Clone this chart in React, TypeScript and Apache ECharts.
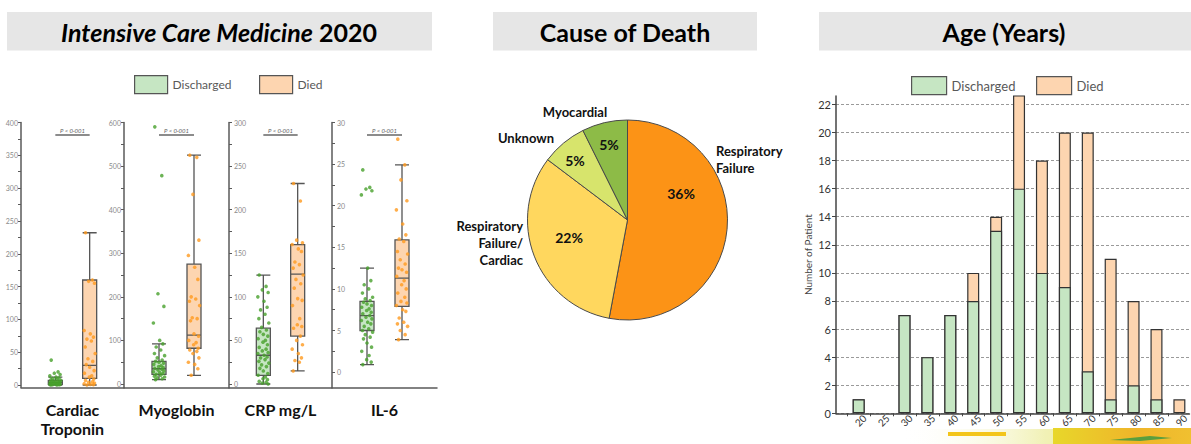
import React, { useEffect, useRef } from 'react';
import * as echarts from 'echarts';

// ---------------- Data ----------------
const PANEL_NAMES = ['Cardiac\nTroponin', 'Myoglobin', 'CRP mg/L', 'IL-6'];
const GROUPS = ['Discharged', 'Died'];

// box statistics: [min, Q1, median, Q3, max]
const TROP_BOX_DIS = [0, 1, 4, 7, 12];
const TROP_BOX_DIED = [0, 10, 30, 160, 232];
const MYO_BOX_DIS = [10, 22, 35, 52, 92];
const MYO_BOX_DIED = [20, 82, 112, 275, 525];
const CRP_BOX_DIS = [0, 10, 33, 64, 125];
const CRP_BOX_DIED = [15, 55, 126, 160, 230];
const IL6_BOX_DIS = [0.9, 5.0, 6.8, 8.5, 12.5];
const IL6_BOX_DIED = [3.9, 7.9, 11.3, 15.9, 24.9];

// individual patient values
const TROP_PTS_DIS = [38, 20, 18, 16, 14, 12, 11, 10, 9, 8, 7, 6, 6, 5, 5, 4, 4, 3, 3, 3, 2, 2, 2, 1, 1, 1, 0.5, 0.5, 0, 0];
const TROP_PTS_DIED = [232, 160, 158, 155, 83, 78, 73, 70, 67, 58, 48, 40, 36, 31, 27, 22, 18, 14, 12, 9, 7, 5, 4, 3, 2, 1, 0.5, 0];
const MYO_PTS_DIS = [590, 478, 207, 178, 140, 100, 92, 85, 78, 70, 65, 60, 55, 52, 50, 48, 45, 42, 40, 38, 36, 34, 32, 30, 28, 26, 24, 22, 20, 18, 16, 14, 12, 10];
const MYO_PTS_DIED = [525, 520, 435, 330, 295, 268, 240, 200, 195, 190, 180, 152, 150, 145, 115, 110, 100, 95, 90, 82, 78, 75, 70, 60, 50, 45, 35, 20];
const CRP_PTS_DIS = [125, 112, 108, 105, 100, 95, 88, 85, 80, 75, 70, 65, 62, 60, 57, 55, 52, 50, 48, 45, 42, 40, 38, 36, 35, 33, 31, 30, 28, 26, 24, 22, 20, 18, 15, 12, 10, 8, 6, 5, 3, 2, 1, 0];
const CRP_PTS_DIED = [230, 210, 165, 162, 160, 155, 152, 140, 137, 133, 125, 120, 115, 110, 98, 96, 90, 75, 68, 66, 64, 55, 50, 45, 40, 35, 30, 27, 25, 15];
const IL6_PTS_DIS = [24.3, 22.2, 22.0, 21.8, 21.3, 12.5, 11.0, 10.5, 10.0, 9.5, 9.0, 8.8, 8.6, 8.4, 8.2, 8.0, 7.8, 7.6, 7.4, 7.2, 7.0, 6.8, 6.6, 6.4, 6.2, 6.0, 5.8, 5.5, 5.2, 5.0, 4.8, 4.5, 4.2, 4.0, 3.5, 3.0, 2.5, 2.0, 1.5, 1.2, 0.9];
const IL6_PTS_DIED = [28.0, 24.9, 23.1, 20.6, 19.5, 17.8, 16.5, 16.0, 15.7, 14.5, 14.2, 13.5, 13.0, 12.5, 12.3, 12.0, 11.5, 11.0, 10.5, 10.0, 9.5, 9.0, 8.5, 8.3, 8.0, 7.5, 7.3, 6.5, 6.0, 5.8, 5.5, 5.0, 4.5, 3.9];

// tick labels of the four y axes
const Y_LABELS_TROP = [0, 50, 100, 150, 200, 250, 300, 350, 400];
const Y_LABELS_MYO = [0, 100, 200, 300, 400, 500, 600];
const Y_LABELS_CRP = [0, 50, 100, 150, 200, 250, 300];
const Y_LABELS_IL6 = [0, 5, 10, 15, 20, 25, 30];
const Y_MIN = [-3.8, -8, -4, -1.85];
const Y_MAX = [400, 600, 300, 30];
const P_LABEL = 'P < 0·001';

// fixed horizontal spread of the dots (category units)
const JITTER = [-0.12, 0.08, -0.03, 0.14, -0.16, 0.02, 0.11, -0.08, 0.05, -0.13, 0.16, -0.05, 0.09, -0.1, 0.0, 0.13, -0.15, 0.06, -0.01, 0.12];

// Age distribution
const AGE_GROUPS = [20, 25, 30, 35, 40, 45, 50, 55, 60, 65, 70, 75, 80, 85, 90];
const AGE_DISCHARGED = [1, 0, 7, 4, 7, 8, 13, 16, 10, 9, 3, 1, 2, 1, 0];
const AGE_DIED = [0, 0, 0, 0, 0, 2, 1, 7, 8, 11, 17, 10, 6, 5, 1];
const AGE_Y_TICKS = [0, 2, 4, 6, 8, 10, 12, 14, 16, 18, 20, 22];

// Cause of death
const CAUSES = ['Respiratory\nFailure', 'Respiratory\nFailure/\nCardiac', 'Unknown', 'Myocardial'];
const CAUSE_PCT = [36, 22, 5, 5];

// ---------------- Styles / layout ----------------
const GREEN_FILL = '#c6e6c3';
const ORANGE_FILL = '#fdd5b0';
const GREEN_PT = '#47a02c';
const ORANGE_PT = '#ff9a1e';
const AXIS_C = '#5a5a5a';
const PIE_COLORS = ['#fc9316', '#ffd75e', '#d7e46c', '#8dbb47'];
const FONT = 'Lato, "Open Sans", sans-serif';

const LEFT_GRIDS = [
  { left: 21, width: 103, inside: false },
  { left: 124, width: 105, inside: false },
  { left: 229, width: 103, inside: true },
  { left: 332, width: 105, inside: true },
];
const GRID_TOP = 122.5;
const GRID_BOTTOM_Y = 387.5;
const PCT_POS = [[681, 193], [569, 237], [575, 160], [609, 144]];
const NAME_POS: [number, number, string][] = [[716, 159, 'left'], [523, 243, 'right'], [526, 138, 'center'], [575, 112, 'center']];
const AGE_LABEL_SHIFT = 1.3;

function legendItem(name: string, color: string, left: number, top: number, w: number, fs: number) {
  return {
    data: [{ name, itemStyle: { color, borderColor: '#555', borderWidth: 1.2 } }],
    left, top, padding: 0, icon: 'rect', itemWidth: w, itemHeight: 18, selectedMode: false,
    textStyle: { fontSize: fs, color: '#595959', fontFamily: FONT },
  };
}

function buildOption() {
  const BOX = [[TROP_BOX_DIS, TROP_BOX_DIED], [MYO_BOX_DIS, MYO_BOX_DIED], [CRP_BOX_DIS, CRP_BOX_DIED], [IL6_BOX_DIS, IL6_BOX_DIED]];
  const PTS = [[TROP_PTS_DIS, TROP_PTS_DIED], [MYO_PTS_DIS, MYO_PTS_DIED], [CRP_PTS_DIS, CRP_PTS_DIED], [IL6_PTS_DIS, IL6_PTS_DIED]];
  const Y_LABELS = [Y_LABELS_TROP, Y_LABELS_MYO, Y_LABELS_CRP, Y_LABELS_IL6];

  const grids: any[] = [];
  const xAxes: any[] = [];
  const yAxes: any[] = [];
  const series: any[] = [];
  const graphics: any[] = [];

  // visible panels (grids 0-3) with dots
  LEFT_GRIDS.forEach((g, i) => {
    grids.push({ left: g.left, top: GRID_TOP, width: g.width, height: GRID_BOTTOM_Y - GRID_TOP });
    xAxes.push({
      gridIndex: i, type: 'value', min: 0, max: 3,
      axisLine: { show: true, onZero: false, lineStyle: { color: AXIS_C, width: 1.5 } },
      axisTick: { show: false }, axisLabel: { show: false }, splitLine: { show: false },
      name: PANEL_NAMES[i], nameLocation: 'middle', nameGap: 12,
      nameTextStyle: { fontSize: 16, fontWeight: 'bold', color: '#111', lineHeight: 19, fontFamily: FONT },
    });
    const labels = Y_LABELS[i];
    const step = labels[1] - labels[0];
    const ticks = labels.flatMap((v) => (v + step / 2 <= Y_MAX[i] ? [v, v + step / 2] : [v]));
    yAxes.push({
      gridIndex: i, type: 'value', min: Y_MIN[i], max: Y_MAX[i],
      axisLine: { show: true, onZero: false, lineStyle: { color: AXIS_C, width: 1.5 } },
      axisTick: { show: true, inside: g.inside, length: 3, customValues: ticks, lineStyle: { color: AXIS_C } },
      axisLabel: { show: true, inside: g.inside, customValues: labels, fontSize: 7, color: '#8a8a8a', margin: g.inside ? 5 : 3, fontFamily: FONT },
      splitLine: { show: false },
    });
    GROUPS.forEach((name, k) => {
      series.push({
        type: 'scatter', name: name + ' patients', xAxisIndex: i, yAxisIndex: i, symbolSize: 3.6, z: 3,
        itemStyle: { color: k === 0 ? GREEN_PT : ORANGE_PT },
        emphasis: { disabled: true },
        data: PTS[i][k].map((v, j) => [k + 1 + JITTER[j % JITTER.length], v]),
      });
    });
    // P value annotation
    const x1 = g.left + g.width / 3;
    const x2 = g.left + (2 * g.width) / 3;
    graphics.push({
      type: 'text', x: (x1 + x2) / 2, y: 130,
      style: { text: P_LABEL, fontSize: 6, fontStyle: 'italic', fill: '#666', align: 'center', verticalAlign: 'middle', textAlign: 'center', textVerticalAlign: 'middle', fontFamily: FONT },
    });
    graphics.push({ type: 'line', shape: { x1, y1: 135, x2, y2: 135 }, style: { stroke: '#666', lineWidth: 1.5 } });
  });

  // Age chart (grid 4)
  grids.push({ left: 836, top: 96, width: 355, height: 317.3 });
  xAxes.push({
    gridIndex: 4, type: 'value', min: 15.05, max: 92.2,
    axisLine: { show: true, onZero: false, lineStyle: { color: '#444', width: 1.5 } },
    axisTick: { show: true, length: 3, customValues: AGE_GROUPS.map((a) => a - 2.5), lineStyle: { color: '#444' } },
    axisLabel: {
      show: true, rotate: 45, fontSize: 10, color: '#333', margin: 3, fontFamily: FONT,
      customValues: AGE_GROUPS.map((a) => a + AGE_LABEL_SHIFT),
      formatter: (v: number) => String(Math.round(v - AGE_LABEL_SHIFT)),
    },
    splitLine: { show: false },
  });
  yAxes.push({
    gridIndex: 4, type: 'value', min: 0, max: 22.6,
    axisLine: { show: true, onZero: false, lineStyle: { color: '#444', width: 1.5 } },
    axisTick: { show: true, length: 4, customValues: AGE_Y_TICKS, lineStyle: { color: '#444' } },
    axisLabel: { show: true, customValues: AGE_Y_TICKS, fontSize: 11, color: '#333', margin: 5, fontFamily: FONT },
    splitLine: { show: true, lineStyle: { type: [3, 2], color: '#9a9a9a', width: 1 } },
    name: 'Number of Patient', nameLocation: 'middle', nameGap: 23,
    nameTextStyle: { fontSize: 10, color: '#444', fontFamily: FONT },
  });
  series.push({
    type: 'bar', name: 'Died', xAxisIndex: 4, yAxisIndex: 4, barWidth: 12, barGap: '-100%',
    itemStyle: { color: ORANGE_FILL, borderColor: '#333', borderWidth: 1.2 },
    emphasis: { disabled: true },
    data: AGE_GROUPS.map((a, i) => [a, AGE_DISCHARGED[i] + AGE_DIED[i] || '-']),
  });
  series.push({
    type: 'bar', name: 'Discharged', xAxisIndex: 4, yAxisIndex: 4, barWidth: 12, barGap: '-100%',
    itemStyle: { color: GREEN_FILL, borderColor: '#333', borderWidth: 1.2 },
    emphasis: { disabled: true },
    data: AGE_GROUPS.map((a, i) => [a, AGE_DISCHARGED[i] || '-']),
  });

  // hidden category grids (5-8) carrying the box plots, centred at 1/3 and 2/3 of each panel
  LEFT_GRIDS.forEach((g, i) => {
    const gi = 5 + i;
    grids.push({ left: g.left + g.width / 6, top: GRID_TOP, width: (2 * g.width) / 3, height: GRID_BOTTOM_Y - GRID_TOP });
    xAxes.push({ gridIndex: gi, type: 'category', data: GROUPS, show: false, boundaryGap: true });
    yAxes.push({ gridIndex: gi, type: 'value', min: Y_MIN[i], max: Y_MAX[i], show: false, splitLine: { show: false } });
    series.push({
      type: 'boxplot', name: 'box ' + i, xAxisIndex: gi, yAxisIndex: gi, boxWidth: [14, 14], z: 2,
      itemStyle: { borderColor: '#555', borderWidth: 1.3 },
      emphasis: { disabled: true },
      data: GROUPS.map((_, k) => ({ value: BOX[i][k], itemStyle: { color: k === 0 ? GREEN_FILL : ORANGE_FILL, borderColor: '#555', borderWidth: 1.3 } })),
    });
  });

  // Pie (cause of death)
  const pieData = CAUSES.map((n, i) => ({ name: n, value: CAUSE_PCT[i], itemStyle: { color: PIE_COLORS[i] } }));
  series.push({
    type: 'pie', center: [627.5, 220], radius: 100, startAngle: 90, clockwise: true,
    itemStyle: { borderColor: '#4a4a4a', borderWidth: 1 },
    emphasis: { disabled: true },
    label: { show: true, position: 'inside', formatter: '{c}%', fontSize: 14, fontWeight: 'bold', color: '#111', fontFamily: FONT },
    labelLine: { show: false },
    labelLayout: (p: any) => ({ x: PCT_POS[p.dataIndex][0], y: PCT_POS[p.dataIndex][1], align: 'center', verticalAlign: 'middle' }),
    data: pieData,
  });
  series.push({
    type: 'pie', center: [627.5, 220], radius: 100, startAngle: 90, clockwise: true, silent: true,
    itemStyle: { color: 'rgba(0,0,0,0)', borderWidth: 0 },
    emphasis: { disabled: true },
    label: { show: true, position: 'outside', formatter: '{b}', fontSize: 13, fontWeight: 'bold', color: '#111', lineHeight: 17, fontFamily: FONT },
    labelLine: { show: false },
    labelLayout: (p: any) => ({ x: NAME_POS[p.dataIndex][0], y: NAME_POS[p.dataIndex][1], align: NAME_POS[p.dataIndex][2], verticalAlign: 'middle' }),
    data: CAUSES.map((n, i) => ({ name: n, value: CAUSE_PCT[i] })),
  });

  // Title boxes
  const TS = 25;
  const titleStyle = { fontSize: TS, fontWeight: 'bold', fill: '#000', fontFamily: FONT, align: 'center', verticalAlign: 'middle', textAlign: 'center', textVerticalAlign: 'middle' };
  graphics.push({ type: 'rect', shape: { x: 7, y: 12, width: 425, height: 38.5 }, style: { fill: '#e6e6e6' } });
  graphics.push({ type: 'rect', shape: { x: 493, y: 12, width: 264, height: 38.5 }, style: { fill: '#e6e6e6' } });
  graphics.push({ type: 'rect', shape: { x: 819, y: 12, width: 372, height: 38.5 }, style: { fill: '#e6e6e6' } });
  graphics.push({
    type: 'text', x: 219, y: 31.5,
    style: {
      ...titleStyle,
      text: '{i|Intensive Care Medicine} {b|2020}',
      rich: {
        i: { fontSize: TS, fontWeight: 'bold', fontStyle: 'italic', fill: '#000', fontFamily: FONT },
        b: { fontSize: TS, fontWeight: 'bold', fill: '#000', fontFamily: FONT },
      },
    },
  });
  graphics.push({ type: 'text', x: 625, y: 31.5, style: { ...titleStyle, text: 'Cause of Death' } });
  graphics.push({ type: 'text', x: 1004, y: 31.5, style: { ...titleStyle, text: 'Age (Years)' } });

  // decorative strip at bottom right
  graphics.push({
    type: 'rect', shape: { x: 900, y: 429, width: 291, height: 15 },
    style: { fill: new echarts.graphic.LinearGradient(0, 0, 1, 0, [{ offset: 0, color: 'rgba(255,255,255,0)' }, { offset: 0.5, color: 'rgba(235,235,150,0.7)' }, { offset: 1, color: 'rgba(240,220,80,0.9)' }]) },
  });
  graphics.push({ type: 'rect', shape: { x: 948, y: 432, width: 58, height: 4 }, style: { fill: '#f3c51a' } });
  graphics.push({
    type: 'rect', shape: { x: 1053, y: 428, width: 138, height: 16 },
    style: { fill: new echarts.graphic.LinearGradient(0, 0, 1, 0, [{ offset: 0, color: '#e8d72a' }, { offset: 0.6, color: '#efb52a' }, { offset: 1, color: '#f0c030' }]) },
  });
  graphics.push({ type: 'polygon', shape: { points: [[1110, 440], [1150, 436], [1172, 438], [1140, 441]] }, style: { fill: '#5a9e3e' } });

  return {
    animation: false,
    backgroundColor: '#fff',
    textStyle: { fontFamily: FONT },
    grid: grids,
    xAxis: xAxes,
    yAxis: yAxes,
    legend: [
      legendItem('Discharged', GREEN_FILL, 134, 75, 33, 12),
      legendItem('Died', ORANGE_FILL, 259, 75, 33, 12),
      legendItem('Discharged', GREEN_FILL, 911, 76, 35, 13),
      legendItem('Died', ORANGE_FILL, 1036, 76, 35, 13),
    ],
    series,
    graphic: { elements: graphics },
  };
}

export default function App() {
  const ref = useRef<HTMLDivElement>(null);
  useEffect(() => {
    if (!ref.current) return;
    const chart = echarts.init(ref.current, null, { renderer: 'svg' });
    chart.setOption(buildOption() as any);
    return () => chart.dispose();
  }, []);
  return (
    <div
      ref={ref}
      style={{ position: 'absolute', left: 0, top: 0, width: 1191, height: 444, background: '#fff' }}
    />
  );
}
